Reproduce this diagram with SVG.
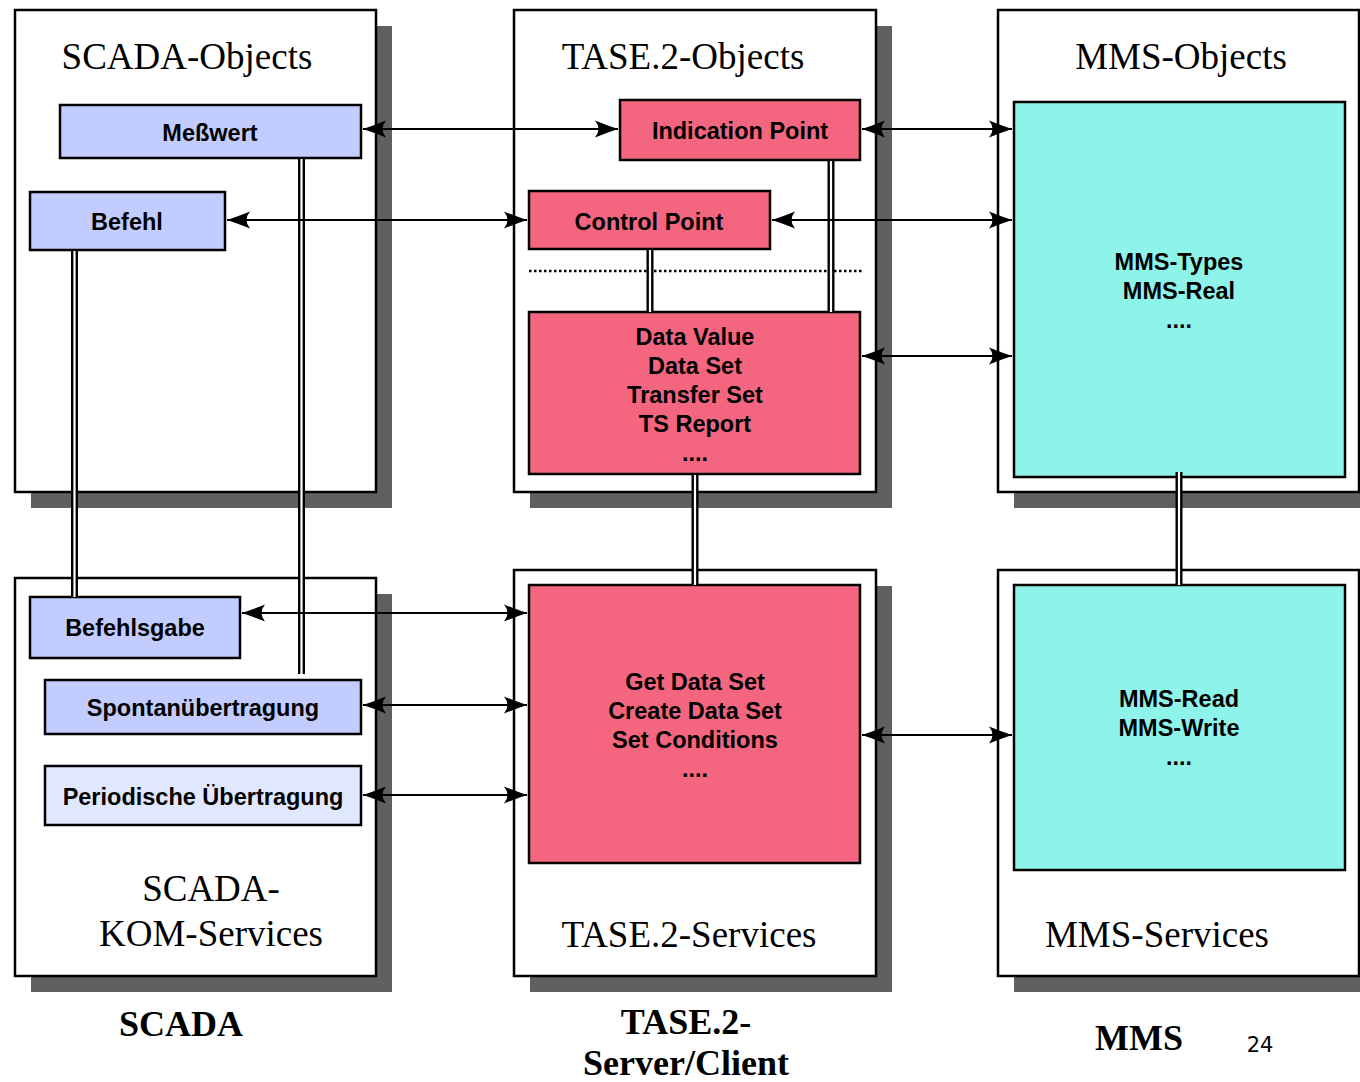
<svg xmlns="http://www.w3.org/2000/svg" width="1360" height="1082" viewBox="0 0 1360 1082">
<defs>
<marker id="ah" viewBox="0 0 24 18" refX="24" refY="9" markerWidth="24" markerHeight="18" markerUnits="userSpaceOnUse" orient="auto-start-reverse">
<path d="M24,9 Q12,5 1,0.5 Q8,9 1,17.5 Q12,13 24,9 Z" fill="#000"/>
</marker>
<style>
.shadow{fill:#606060;}
.outer{fill:#fff;stroke:#000;stroke-width:2.5;}
.blue{fill:#C2CCFF;stroke:#000;stroke-width:2.5;}
.pale{fill:#E0E8FF;stroke:#000;stroke-width:2.5;}
.pink{fill:#F4667F;stroke:#000;stroke-width:2.5;}
.cyan{fill:#8EF4EA;stroke:#000;stroke-width:2.5;}
.title{font-family:"Liberation Serif","Times New Roman",serif;font-size:37px;fill:#000;text-anchor:middle;}
.foot{font-family:"Liberation Serif","Times New Roman",serif;font-size:36px;font-weight:bold;fill:#000;text-anchor:middle;}
.lbl{font-family:"Liberation Sans",Arial,sans-serif;font-size:23.5px;font-weight:bold;fill:#000;text-anchor:middle;}
.dbl-o{stroke:#000;stroke-width:7;fill:none;}
.dbl-i{stroke:#fff;stroke-width:2.2;fill:none;}
.arr{stroke:#000;stroke-width:2.2;fill:none;marker-start:url(#ah);marker-end:url(#ah);}
.dot{stroke:#000;stroke-width:2.5;stroke-dasharray:2.5 2.5;fill:none;}
</style>
</defs>

<g id="scada-objects">
<rect class="shadow" x="31" y="26" width="361" height="482"/>
<rect class="outer" x="15" y="10" width="361" height="482"/>
<text class="title" x="187" y="69">SCADA-Objects</text>
</g>
<g id="tase-objects">
<rect class="shadow" x="530" y="26" width="362" height="482"/>
<rect class="outer" x="514" y="10" width="362" height="482"/>
<text class="title" x="683" y="69">TASE.2-Objects</text>
</g>
<g id="mms-objects">
<rect class="shadow" x="1014" y="26" width="346" height="482"/>
<rect class="outer" x="998" y="10" width="361" height="482"/>
<text class="title" x="1181" y="69">MMS-Objects</text>
</g>
<g id="scada-services">
<rect class="shadow" x="31" y="594" width="361" height="398"/>
<rect class="outer" x="15" y="578" width="361" height="398"/>
<text class="title" x="211" y="901">SCADA-</text>
<text class="title" x="211" y="946">KOM-Services</text>
</g>
<g id="tase-services">
<rect class="shadow" x="530" y="586" width="362" height="406"/>
<rect class="outer" x="514" y="570" width="362" height="406"/>
<text class="title" x="689" y="947">TASE.2-Services</text>
</g>
<g id="mms-services">
<rect class="shadow" x="1014" y="586" width="346" height="406"/>
<rect class="outer" x="998" y="570" width="361" height="406"/>
<text class="title" x="1157" y="947">MMS-Services</text>
</g>

<g id="messwert"><rect class="blue" x="60" y="105" width="301" height="53"/><text class="lbl" x="210" y="141">Meßwert</text></g>
<g id="befehl"><rect class="blue" x="30" y="192" width="195" height="58"/><text class="lbl" x="127" y="230">Befehl</text></g>
<g id="indication-point"><rect class="pink" x="620" y="100" width="240" height="60"/><text class="lbl" x="740" y="139">Indication Point</text></g>
<g id="control-point"><rect class="pink" x="529" y="191" width="241" height="58"/><text class="lbl" x="649" y="230">Control Point</text></g>
<g id="data-value"><rect class="pink" x="529" y="312" width="331" height="162"/>
<text class="lbl" x="695" y="345">Data Value</text>
<text class="lbl" x="695" y="374">Data Set</text>
<text class="lbl" x="695" y="403">Transfer Set</text>
<text class="lbl" x="695" y="432">TS Report</text>
<text class="lbl" x="695" y="461">....</text></g>
<g id="mms-types"><rect class="cyan" x="1014" y="102" width="331" height="375"/>
<text class="lbl" x="1179" y="270">MMS-Types</text>
<text class="lbl" x="1179" y="299">MMS-Real</text>
<text class="lbl" x="1179" y="328">....</text></g>
<g id="befehlsgabe"><rect class="blue" x="30" y="597" width="210" height="61"/><text class="lbl" x="135" y="636">Befehlsgabe</text></g>
<g id="spontan"><rect class="blue" x="45" y="680" width="316" height="54"/><text class="lbl" x="203" y="716">Spontanübertragung</text></g>
<g id="periodisch"><rect class="pale" x="45" y="766" width="316" height="59"/><text class="lbl" x="203" y="805">Periodische Übertragung</text></g>
<g id="get-data-set"><rect class="pink" x="529" y="585" width="331" height="278"/>
<text class="lbl" x="695" y="690">Get Data Set</text>
<text class="lbl" x="695" y="719">Create Data Set</text>
<text class="lbl" x="695" y="748">Set Conditions</text>
<text class="lbl" x="695" y="777">....</text></g>
<g id="mms-read"><rect class="cyan" x="1014" y="585" width="331" height="285"/>
<text class="lbl" x="1179" y="707">MMS-Read</text>
<text class="lbl" x="1179" y="736">MMS-Write</text>
<text class="lbl" x="1179" y="765">....</text></g>

<g id="connectors">
<line class="dot" x1="529" y1="271" x2="862" y2="271"/>
<path class="dbl-o" d="M301.5,159 V674 M74.5,251 V597 M831,161 V312 M650,250 V312 M695,475 V585 M1179,472 V585"/>
<path class="dbl-i" d="M301.5,159 V674 M74.5,251 V597 M831,161 V312 M650,250 V312 M695,475 V585 M1179,472 V585"/>
<line class="arr" x1="363" y1="129" x2="618" y2="129"/>
<line class="arr" x1="227" y1="220" x2="527" y2="220"/>
<line class="arr" x1="862" y1="129" x2="1012" y2="129"/>
<line class="arr" x1="772" y1="220" x2="1012" y2="220"/>
<line class="arr" x1="862" y1="356" x2="1012" y2="356"/>
<line class="arr" x1="242" y1="613" x2="527" y2="613"/>
<line class="arr" x1="363" y1="705" x2="527" y2="705"/>
<line class="arr" x1="363" y1="795" x2="527" y2="795"/>
<line class="arr" x1="862" y1="735" x2="1012" y2="735"/>
</g>

<g id="footer">
<text class="foot" x="181" y="1036">SCADA</text>
<text class="foot" x="686" y="1034">TASE.2-</text>
<text class="foot" x="686" y="1075">Server/Client</text>
<text class="foot" x="1139" y="1050">MMS</text>
<text x="1260" y="1052" style="font-family:'DejaVu Sans',sans-serif;font-size:21px;fill:#000;text-anchor:middle;">24</text>
</g>
</svg>
